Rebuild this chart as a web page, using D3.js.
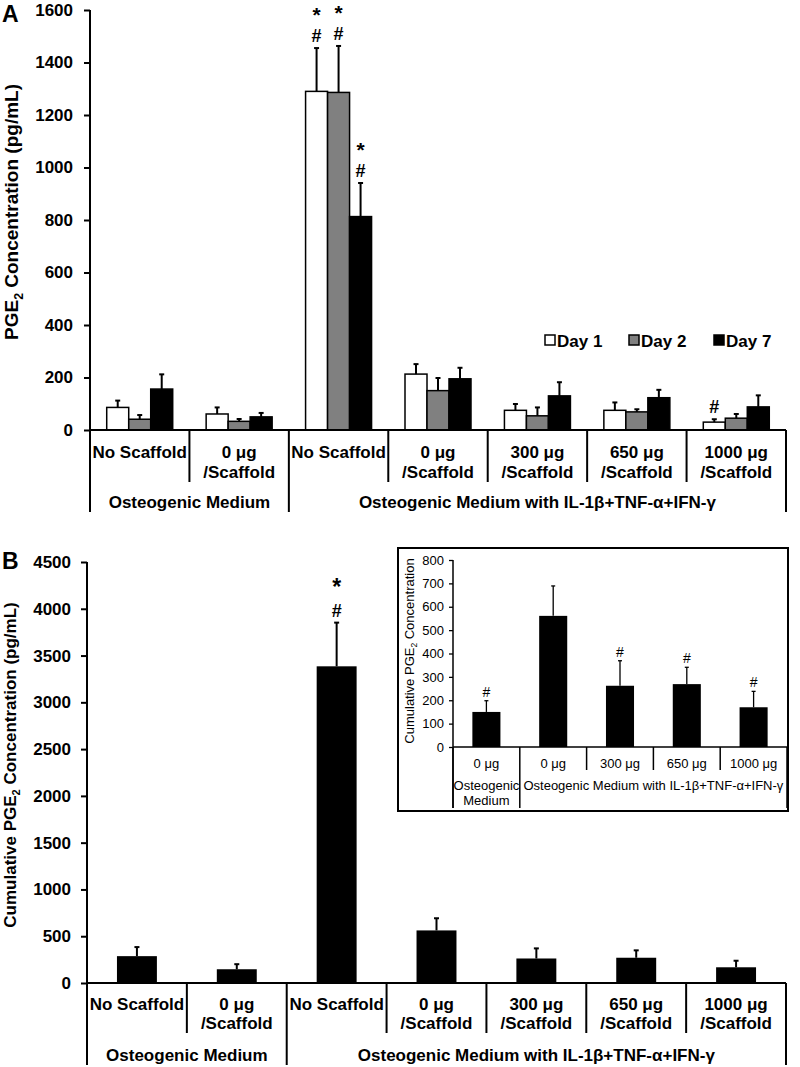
<!DOCTYPE html>
<html><head><meta charset="utf-8">
<script src="https://cdn.jsdelivr.net/npm/d3@7"></script>
<style>
body{margin:0;background:#fff;}
svg{display:block;font-family:"Liberation Sans",Arial,sans-serif;}
</style>
</head><body>
<svg id="chart" width="800" height="1067"></svg>
<script>
// ---------- DATA ----------
const categories = ["OM|No Scaffold","OM|0 μg","CM|No Scaffold","CM|0 μg","CM|300 μg","CM|650 μg","CM|1000 μg"];
const categoryLabels = [["No Scaffold"],["0 μg","/Scaffold"],["No Scaffold"],["0 μg","/Scaffold"],["300 μg","/Scaffold"],["650 μg","/Scaffold"],["1000 μg","/Scaffold"]];
const groupNames = ["Osteogenic Medium","Osteogenic Medium with IL-1β+TNF-α+IFN-γ"];
const groupSpans = [2,5];

const dayNames = ["Day 1","Day 2","Day 7"];
const dayColors = ["#ffffff","#808080","#000000"];
const day1 = [86, 61, 1290, 213, 75, 75, 30];
const day1Err = [26, 25, 165, 38, 24, 30, 11];
const day2 = [41, 33, 1286, 150, 54, 69, 45];
const day2Err = [16, 9, 177, 48, 32, 10, 16];
const day7 = [156, 50, 813, 195, 130, 123, 88];
const day7Err = [56, 15, 128, 42, 52, 30, 44];
const day1Marks = ["", "", "*#", "", "", "", "#"];
const day2Marks = ["", "", "*#", "", "", "", ""];
const day7Marks = ["", "", "*#", "", "", "", ""];
const ticksA = [0,200,400,600,800,1000,1200,1400,1600];

const cumulative = [287, 147, 3385, 562, 262, 270, 168];
const cumulativeErr = [97, 54, 467, 130, 108, 79, 70];
const cumulativeMarks = ["", "", "*#", "", "", "", ""];
const ticksB = [0,500,1000,1500,2000,2500,3000,3500,4000,4500];

const insetCategories = ["OM|0 μg","CM|0 μg","CM|300 μg","CM|650 μg","CM|1000 μg"];
const insetLabels = ["0 μg","0 μg","300 μg","650 μg","1000 μg"];
const insetGroupNames = [["Osteogenic","Medium"],["Osteogenic Medium with IL-1β+TNF-α+IFN-γ"]];
const insetGroupSpans = [1,4];
const insetValues = [150, 561, 262, 269, 170];
const insetErr = [48, 128, 107, 72, 68];
const insetMarks = ["#", "", "#", "#", "#"];
const ticksInset = [0,100,200,300,400,500,600,700,800];

// ---------- DRAW ----------
const svg = d3.select("#chart");
const FONT = '"Liberation Sans",Arial,sans-serif';

function boundaries(spans){ const b=[0]; spans.forEach(s=>b.push(b[b.length-1]+s)); return b; }

function styleAxis(g, size, weight, sw){
  g.attr("font-family", FONT).attr("font-size", size).attr("font-weight", weight);
  g.selectAll("text").attr("fill","#000");
  g.selectAll("line").attr("stroke","#000").attr("stroke-width", sw);
  g.select(".domain").remove();
}

function drawCategoryAxis(cfg){
  const {x, cats, labels, gNames, gSpans, y0, x0, x1, subDivEnd, groupDivEnd, line1, line2, groupLines, fontSize, weight, sw} = cfg;
  svg.append("line").attr("x1",x0).attr("x2",x1).attr("y1",y0).attr("y2",y0).attr("stroke","#000").attr("stroke-width",sw);
  const gb = boundaries(gSpans);
  const bw = x.bandwidth();
  d3.range(cats.length+1).forEach(i=>{
    const xx = i<cats.length ? x(cats[i]) : x(cats[cats.length-1])+bw;
    const isGroup = gb.includes(i);
    svg.append("line").attr("x1",xx).attr("x2",xx).attr("y1",y0).attr("y2", isGroup?groupDivEnd:subDivEnd)
      .attr("stroke","#000").attr("stroke-width",sw);
  });
  cats.forEach((c,i)=>{
    const lines = Array.isArray(labels[i]) ? labels[i] : [labels[i]];
    lines.forEach((t,j)=>{
      svg.append("text").attr("x", x(c)+bw/2).attr("y", j===0?line1:line2)
        .attr("text-anchor","middle").attr("font-size",fontSize).attr("font-weight",weight).text(t);
    });
  });
  gNames.forEach((name,gi)=>{
    const a = x(cats[gb[gi]]), b = x(cats[gb[gi+1]-1])+bw;
    const lines = Array.isArray(name)?name:[name];
    lines.forEach((t,j)=>{
      svg.append("text").attr("x",(a+b)/2).attr("y",groupLines[j])
        .attr("text-anchor","middle").attr("font-size",fontSize).attr("font-weight",weight).text(t);
    });
  });
}

function drawErr(x, yTop, yBase, cap, sw){
  svg.append("line").attr("x1",x).attr("x2",x).attr("y1",yBase).attr("y2",yTop).attr("stroke","#000").attr("stroke-width",sw);
  svg.append("line").attr("x1",x-cap/2).attr("x2",x+cap/2).attr("y1",yTop).attr("y2",yTop).attr("stroke","#000").attr("stroke-width",sw);
}

function drawMarks(x, yTop, marks, hashSize, starSize, weight, hashOff, starOff){
  if(!marks) return;
  if(marks.includes("#")) svg.append("text").attr("x",x).attr("y",yTop-hashOff).attr("text-anchor","middle")
      .attr("font-size",hashSize).attr("font-weight",weight).attr("fill","#000").text("#");
  if(marks.includes("*")) svg.append("text").attr("x",x).attr("y",yTop-starOff).attr("text-anchor","middle")
      .attr("font-size",starSize).attr("font-weight",weight).attr("fill","#000").text("*");
}

function yTitle(x, y, before, sub, after, size, weight){
  const t = svg.append("text").attr("transform",`translate(${x},${y}) rotate(-90)`)
    .attr("text-anchor","middle").attr("font-size",size).attr("font-weight",weight);
  t.append("tspan").text(before);
  t.append("tspan").attr("font-size",size*0.65).attr("dy",size*0.25).text(sub);
  t.append("tspan").attr("dy",-size*0.25).text(after);
}

// ===== Panel A =====
const xA = d3.scaleBand().domain(categories).range([90,786]);
const yA = d3.scaleLinear().domain([0,1600]).range([430,10]);
const subA = d3.scaleBand().domain(dayNames).range([0,xA.bandwidth()]).paddingInner(0).paddingOuter(0.76);

svg.append("text").attr("x",2).attr("y",22).attr("font-size",23).attr("font-weight","bold").text("A");
const gA = svg.append("g").attr("transform","translate(90,0)")
  .call(d3.axisLeft(yA).tickValues(ticksA).tickSize(6).tickPadding(11).tickFormat(d3.format("d")));
styleAxis(gA, 17, "bold", 2);
svg.append("line").attr("x1",90).attr("x2",90).attr("y1",10).attr("y2",512).attr("stroke","#000").attr("stroke-width",2);
yTitle(18, 212, "PGE", "2", " Concentration (pg/mL)", 19, "bold");

const seriesA = [[day1,day1Err,day1Marks],[day2,day2Err,day2Marks],[day7,day7Err,day7Marks]];
seriesA.forEach(([vals,errs,marks],si)=>{
  categories.forEach((c,i)=>{
    const bx = xA(c)+subA(dayNames[si]);
    const w = subA.bandwidth();
    svg.append("rect").attr("x",bx).attr("y",yA(vals[i])).attr("width",w).attr("height",yA(0)-yA(vals[i]))
      .attr("fill",dayColors[si]).attr("stroke","#000").attr("stroke-width",1.5);
    const et = yA(vals[i]+errs[i]);
    drawErr(bx+w/2, et, yA(vals[i]), 5, 2);
    drawMarks(bx+w/2, et, marks[i], 18, 21, "bold", 6, 26);
  });
});

drawCategoryAxis({x:xA, cats:categories, labels:categoryLabels, gNames:groupNames, gSpans:groupSpans,
  y0:430, x0:90, x1:786, subDivEnd:482, groupDivEnd:512, line1:458, line2:478, groupLines:[508],
  fontSize:17, weight:"bold", sw:2});

// legend
const legendX = [545, 629, 714];
dayNames.forEach((d,i)=>{
  svg.append("rect").attr("x",legendX[i]).attr("y",335).attr("width",10).attr("height",10)
    .attr("fill",dayColors[i]).attr("stroke","#000").attr("stroke-width",1.5);
  svg.append("text").attr("x",legendX[i]+12).attr("y",347).attr("font-size",17).attr("font-weight","bold").text(d);
});

// ===== Panel B =====
const xB = d3.scaleBand().domain(categories).range([87,786]);
const yB = d3.scaleLinear().domain([0,4500]).range([983,562]);
svg.append("text").attr("x",2).attr("y",569).attr("font-size",23).attr("font-weight","bold").text("B");
const gB = svg.append("g").attr("transform","translate(87,0)")
  .call(d3.axisLeft(yB).tickValues(ticksB).tickSize(6).tickPadding(10).tickFormat(d3.format("d")));
styleAxis(gB, 17, "bold", 2);
svg.append("line").attr("x1",87).attr("x2",87).attr("y1",562).attr("y2",1065).attr("stroke","#000").attr("stroke-width",2);
yTitle(16, 765, "Cumulative PGE", "2", " Concentration (pg/mL)", 17, "bold");

categories.forEach((c,i)=>{
  const w = xB.bandwidth()*0.4;
  const bx = xB(c)+(xB.bandwidth()-w)/2;
  svg.append("rect").attr("x",bx).attr("y",yB(cumulative[i])).attr("width",w).attr("height",yB(0)-yB(cumulative[i]))
    .attr("fill","#000");
  const et = yB(cumulative[i]+cumulativeErr[i]);
  drawErr(bx+w/2, et, yB(cumulative[i]), 5, 2);
  drawMarks(bx+w/2, et, cumulativeMarks[i], 18, 23, "bold", 6, 28);
});

drawCategoryAxis({x:xB, cats:categories, labels:categoryLabels, gNames:groupNames, gSpans:groupSpans,
  y0:983, x0:87, x1:786, subDivEnd:1033, groupDivEnd:1065, line1:1010, line2:1029, groupLines:[1061],
  fontSize:17, weight:"bold", sw:2});

// ===== Inset =====
svg.append("rect").attr("x",398).attr("y",548).attr("width",390).attr("height",263)
  .attr("fill","#fff").attr("stroke","#000").attr("stroke-width",2);
const xI = d3.scaleBand().domain(insetCategories).range([453,787]);
const yI = d3.scaleLinear().domain([0,800]).range([747,560]);
const gI = svg.append("g").attr("transform","translate(453,0)")
  .call(d3.axisLeft(yI).tickValues(ticksInset).tickSize(4).tickPadding(5).tickFormat(d3.format("d")));
styleAxis(gI, 13, "normal", 1.3);
svg.append("line").attr("x1",453).attr("x2",453).attr("y1",560).attr("y2",808).attr("stroke","#000").attr("stroke-width",1.5);
yTitle(414, 651, "Cumulative PGE", "2", " Concentration", 13, "normal");

insetCategories.forEach((c,i)=>{
  const w = xI.bandwidth()*0.42;
  const bx = xI(c)+(xI.bandwidth()-w)/2;
  svg.append("rect").attr("x",bx).attr("y",yI(insetValues[i])).attr("width",w).attr("height",yI(0)-yI(insetValues[i]))
    .attr("fill","#000");
  const et = yI(insetValues[i]+insetErr[i]);
  drawErr(bx+w/2, et, yI(insetValues[i]), 4, 1.3);
  drawMarks(bx+w/2, et, insetMarks[i], 14, 14, "normal", 4, 20);
});

drawCategoryAxis({x:xI, cats:insetCategories, labels:insetLabels, gNames:insetGroupNames, gSpans:insetGroupSpans,
  y0:747, x0:453, x1:787, subDivEnd:770, groupDivEnd:808, line1:768, line2:768, groupLines:[790,805],
  fontSize:13, weight:"normal", sw:1.5});
</script>
</body></html>
